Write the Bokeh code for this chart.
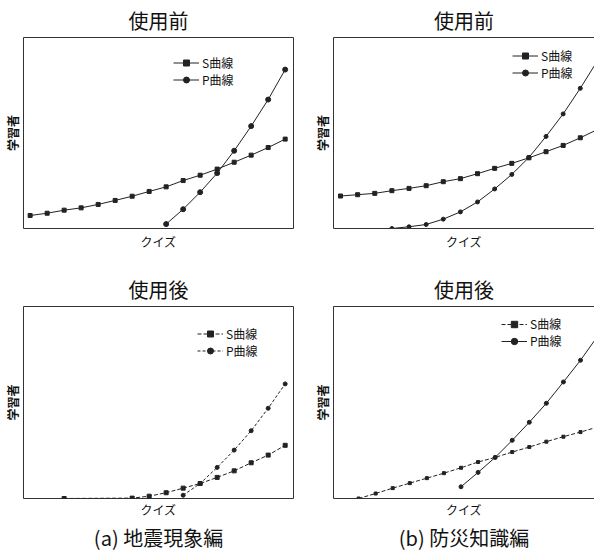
from bokeh.plotting import figure
from bokeh.models import Range1d, Legend, LegendItem, Title, LinearAxis, FixedTicker
from bokeh.layouts import column, row
from bokeh.embed import file_html
from bokeh.resources import INLINE

FONT = "Noto Sans CJK JP"

# ---------------- data (quiz index -> learner share, 0..100 of plot height) ----------------
# (a) 地震現象編 使用前
TL_S_X = list(range(0, 16))
TL_S = [6.8, 8.0, 9.6, 10.8, 12.6, 14.7, 16.9, 19.4, 21.8, 25.1, 27.9, 31.1, 34.7, 38.4, 42.4, 46.8]
TL_P_X = list(range(8, 16))
TL_P = [2.3, 10.1, 19.0, 29.0, 40.7, 53.6, 67.5, 83.2]

# (b) 防災知識編 使用前
TR_S_X = list(range(0, 16))
TR_S = [17.0, 17.7, 18.4, 19.8, 21.0, 22.4, 24.5, 26.1, 28.7, 31.5, 34.1, 37.0, 40.2, 43.5, 47.5, 51.8]
TR_P_X = list(range(3, 16))
TR_P = [0.0, 0.9, 2.1, 4.9, 8.7, 13.9, 20.7, 28.3, 37.2, 48.2, 60.0, 73.4, 87.8]

# (a) 地震現象編 使用後
BL_S_X = [2] + list(range(6, 16))
BL_S = [0.0, 0.2, 1.2, 3.0, 5.4, 7.8, 11.0, 14.4, 18.6, 22.6, 27.7]
BL_P_X = list(range(9, 16))
BL_P = [1.7, 7.8, 16.2, 25.2, 35.3, 47.0, 59.7]

# (b) 防災知識編 使用後
BR_S_X = list(range(1, 16))
BR_S = [0.0, 2.6, 5.4, 8.0, 10.6, 13.2, 16.0, 19.0, 21.4, 24.2, 26.8, 29.6, 32.2, 34.6, 37.2]
BR_P_X = list(range(7, 16))
BR_P = [6.1, 13.6, 21.4, 30.3, 39.7, 49.6, 60.7, 72.0, 84.5]

TITLES = ["使用前", "使用前", "使用後", "使用後"]
CAPTIONS = ["(a) 地震現象編", "(b) 防災知識編"]
S_LABEL = "S曲線"
P_LABEL = "P曲線"
X_LABEL = "クイズ"
Y_LABEL = "学習者"

INK = "#222222"


def panel(title, xr, sx, sy, px, py, s_dash, p_dash, leg_loc, leg_h,
          frame_w, frame_h, b_left, b_right, b_top, b_bottom,
          full_box, title_offset, x_standoff, s_size=4, p_size=5, caption=None):
    p = figure(frame_width=frame_w, frame_height=frame_h,
               x_range=Range1d(*xr), y_range=Range1d(0, 100),
               output_backend="svg", toolbar_location=None,
               min_border_left=b_left, min_border_right=b_right,
               min_border_top=b_top, min_border_bottom=b_bottom,
               x_axis_location=None, y_axis_location=None)
    p.xgrid.visible = False
    p.ygrid.visible = False
    p.background_fill_color = "white"
    p.border_fill_color = "white"

    p.title.text = title
    p.title.align = "center"
    p.title.text_font = FONT
    p.title.text_font_size = "20px"
    p.title.text_font_style = "normal"
    p.title.text_color = "#111111"
    p.title.standoff = 6
    p.title.offset = title_offset

    def ax(**kw):
        a = LinearAxis(ticker=FixedTicker(ticks=[]), major_tick_out=0, major_tick_in=0,
                       minor_tick_out=0, minor_tick_in=0,
                       major_label_text_font_size="0px", **kw)
        return a

    yax = ax(axis_label=Y_LABEL, axis_label_text_font=FONT, axis_label_text_font_size="12px",
             axis_label_text_font_style="bold", axis_label_text_color="#111111",
             axis_label_standoff=3,
             axis_line_color=None if full_box else "#333333")
    p.add_layout(yax, "left")
    xax = ax(axis_label=X_LABEL, axis_label_text_font=FONT, axis_label_text_font_size="12px",
             axis_label_text_font_style="normal", axis_label_text_color="#111111",
             axis_label_standoff=x_standoff,
             axis_line_color=None if full_box else "#333333")
    p.add_layout(xax, "below")
    if full_box:
        p.outline_line_color = "#333333"
        p.outline_line_width = 1
    else:
        p.outline_line_color = None
        top = ax(axis_line_color="#333333")
        p.add_layout(top, "above")

    sl = p.line(sx, sy, line_color=INK, line_width=1, line_dash=s_dash)
    ss = p.scatter(sx, sy, marker="square", size=s_size, fill_color=INK, line_color=INK)
    pl = p.line(px, py, line_color=INK, line_width=1, line_dash=p_dash)
    ps = p.scatter(px, py, marker="circle", size=p_size, fill_color=INK, line_color=INK)

    legend = Legend(items=[LegendItem(label=S_LABEL, renderers=[sl, ss]),
                           LegendItem(label=P_LABEL, renderers=[pl, ps])],
                    location=leg_loc, padding=0, margin=0, spacing=0,
                    glyph_width=26, glyph_height=leg_h, label_height=leg_h,
                    label_standoff=3, label_text_font=FONT, label_text_font_size="12px",
                    label_text_color="#111111",
                    background_fill_alpha=0, border_line_color=None)
    p.add_layout(legend)

    if caption is not None:
        cap = Title(text=caption, align="center", text_font=FONT, text_font_size="20px",
                    text_font_style="normal", text_color="#111111", standoff=0,
                    offset=title_offset)
        p.add_layout(cap, "below")
    return p


p1 = panel(TITLES[0], (-0.39, 15.49), TL_S_X, TL_S, TL_P_X, TL_P, "solid", "solid",
           (150, 140), 15, 270, 191, 15, 17, 32, 31, True, 3, 4)
p2 = panel(TITLES[1], (-0.41, 14.83), TR_S_X, TR_S, TR_P_X, TR_P, "solid", "solid",
           (179, 147), 15, 261, 191, 18, 0, 32, 31, False, 9, 4, s_size=4, p_size=4)
p3 = panel(TITLES[2], (-0.39, 15.49), BL_S_X, BL_S, BL_P_X, BL_P, "4 2", "3 2",
           (174, 139), 15, 270, 192, 15, 17, 47, 44, True, 3, 2,
           s_size=4, p_size=4, caption=CAPTIONS[0])
p4 = panel(TITLES[3], (-0.47, 14.82), BR_S_X, BR_S, BR_P_X, BR_P, "4 2", "solid",
           (168, 149), 16, 261, 192, 18, 0, 47, 44, False, 9, 2,
           s_size=3, p_size=4, caption=CAPTIONS[1])

layout = column(row(p1, p2), row(p3, p4))

open("out.html", "w").write(file_html(layout, INLINE))
